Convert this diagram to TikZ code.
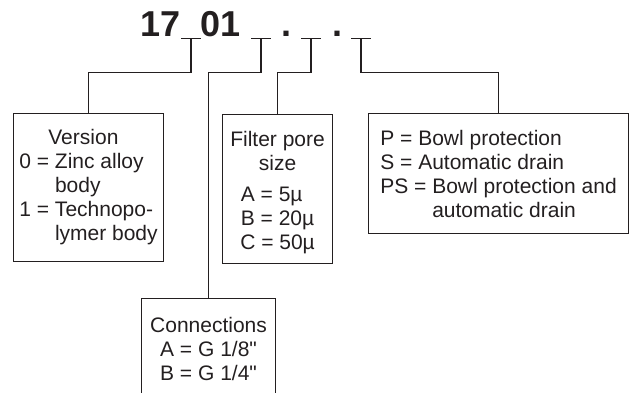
\documentclass[tikz,border=0pt]{standalone}
\usepackage{fontspec}
\setmainfont{Liberation Sans}[Ligatures=TeXOff]
\definecolor{ink}{HTML}{231F20}

\begin{document}
\begin{tikzpicture}[x=1pt, y=-1pt,
	codebox/.style={draw=ink, line width=1.1pt, inner sep=0pt, align=center,
		font=\fontsize{21}{24}\selectfont, text=ink},
	link/.style={draw=ink, line width=1.1pt},
	codetext/.style={font=\fontsize{36}{40}\selectfont\bfseries, text=ink, inner sep=0pt}]
	
	% --- 0. THE FRAME ---
	\useasboundingbox (0,0) rectangle (629,392);
	\clip (0,0) rectangle (629,392);
	
	% --- 1. THE ORDER CODE ---
	\node[codetext, anchor=base east] (series) at (181,36) {17};
	\node[codetext, anchor=base west] (model) at (200.5,36) {01};
	\node[codetext, anchor=base] (dotA) at (286,36) {.};
	\node[codetext, anchor=base] (dotB) at (337,36) {.};
	
	% The four blanks of the code
	\coordinate (u1) at (191,38.5);
	\coordinate (u2) at (261,38.5);
	\coordinate (u3) at (311,38.5);
	\coordinate (u4) at (361,38.5);
	\foreach \u in {1,...,4}
	\draw[link] ([xshift=-10pt]u\u) -- ([xshift=10pt]u\u);
	
	% --- 2. THE OPTION BOXES ---
	\node[codebox, anchor=north west, minimum width=150pt, minimum height=148pt] (version) at (13,113) {
		\begin{tabular}{@{}l@{ }l@{}}
			\multicolumn{2}{@{}l@{}}{\hspace{29pt}Version}\\
			0 = & Zinc alloy\\
			& body\\
			1 = & Technopo-\\
			& lymer body
		\end{tabular}};
	
	\node[codebox, anchor=north west, minimum width=110pt, minimum height=149pt] (filter) at (222,114) {
		\raisebox{-4pt}[\height][\depth]{\begin{tabular}{@{}c@{}}
			Filter pore\\ size\\[7pt]
			A = 5µ\hphantom{0}\\ B = 20µ\\ C = 50µ
		\end{tabular}}};
	
	\node[codebox, anchor=north west, minimum width=134pt, minimum height=100pt] (conn) at (141,298) {
		Connections\\ A = G 1/8"\\ B = G 1/4"};
	
	\node[codebox, anchor=north west, minimum width=260pt, minimum height=120pt] (bowl) at (368,113) {
		\raisebox{-3pt}[\height][\depth]{\begin{tabular}{@{}l@{ }l@{}}
			\multicolumn{2}{@{}l@{}}{P = Bowl protection}\\
			\multicolumn{2}{@{}l@{}}{S = Automatic drain}\\
			PS = & Bowl protection and\\
			& automatic drain
		\end{tabular}}};
	
	% --- 3. THE LEADERS ---
	\draw[link] (u1) -- ++(0,34) -| (version.north);
	\draw[link] (u2) -- ++(0,34) -| (conn.north);
	\draw[link] (u3) -- ++(0,34) -| (filter.north);
	\draw[link] (u4) -- ++(0,34) -| (bowl.north);
	
\end{tikzpicture}
\end{document}
